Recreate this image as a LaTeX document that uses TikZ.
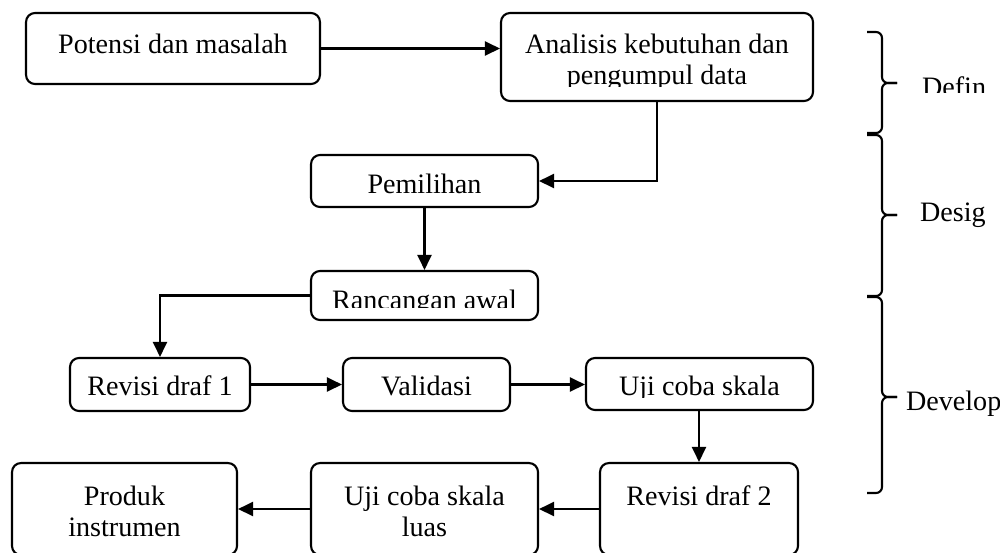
\documentclass[tikz,border=0pt]{standalone}
\usepackage{fontspec}
\setmainfont{Liberation Serif}
\usepackage{tikz}
\usetikzlibrary{arrows.meta, positioning, calc}

\begin{document}
\begin{tikzpicture}[x=0.02cm, y=-0.02cm, line width=1.2pt,
            stage/.style={draw, rounded corners=0.18cm, fill=white, inner sep=0pt},
            lbl/.style={font=\fontsize{16}{17.6}\selectfont, anchor=base, align=center, inner sep=0pt},
            flow/.style={draw, -{Triangle[length=0.3cm, width=0.28cm]}},
            phase/.style={draw, rounded corners=0.12cm}
        ]
        \clip (0,0) rectangle (1000,552);

        % The Boxes
        \node[stage, minimum width=5.88cm, minimum height=1.42cm] (potensi) at (173,48.5) {};
        \node[stage, minimum width=6.24cm, minimum height=1.76cm] (analisis) at (657,57) {};
        \node[stage, minimum width=4.54cm, minimum height=1.04cm] (pemilihan) at (424.5,181) {};
        \node[stage, minimum width=4.54cm, minimum height=0.98cm] (rancangan) at (424.5,295.5) {};
        \node[stage, minimum width=3.6cm, minimum height=1.06cm] (revisi1) at (160,384.5) {};
        \node[stage, minimum width=3.34cm, minimum height=1.06cm] (validasi) at (426.5,384.5) {};
        \node[stage, minimum width=4.54cm, minimum height=1.04cm] (ujicoba) at (699.5,384) {};
        \node[stage, minimum width=3.96cm, minimum height=1.84cm] (revisi2) at (699,509) {};
        \node[stage, minimum width=4.54cm, minimum height=1.84cm] (ujiluas) at (424.5,509) {};
        \node[stage, minimum width=4.5cm, minimum height=1.84cm] (produk) at (124.5,509) {};

        % Texts
        \node[lbl] (potensi-t) at (173,53) {Potensi dan masalah};
        \begin{scope}
            \clip (501,13) rectangle (813,86);
            \node[lbl] (analisis-t) at (657,84) {Analisis kebutuhan dan\\pengumpul data};
        \end{scope}
        \node[lbl] (pemilihan-t) at (424.5,193) {Pemilihan};
        \begin{scope}
            \clip (311,271) rectangle (538,307);
            \node[lbl] (rancangan-t) at (424.5,309) {Rancangan awal};
        \end{scope}
        \node[lbl] (revisi1-t) at (160,395) {Revisi draf 1};
        \node[lbl] (validasi-t) at (426.5,395) {Validasi};
        \begin{scope}
            \clip (586,358) rectangle (813,397);
            \node[lbl] (ujicoba-t) at (699.5,395) {Uji coba skala};
        \end{scope}
        \node[lbl] (revisi2-t) at (699,505) {Revisi draf 2};
        \node[lbl] (ujiluas-t) at (424.5,536) {Uji coba skala\\luas};
        \node[lbl] (produk-t) at (124.5,536) {Produk\\instrumen};

        % Arrows
        \draw[flow] (potensi.east) -- (potensi.east -| analisis.west);
        \draw[flow] (analisis.south) |- (pemilihan.east);
        \draw[flow] (pemilihan.south) -- (rancangan.north);
        \draw[flow] (rancangan.west) -| (revisi1.north);
        \draw[flow] (revisi1.east) -- (validasi.west);
        \draw[flow] (validasi.east) -- (validasi.east -| ujicoba.west);
        \draw[flow] (ujicoba.south -| revisi2.north) -- (revisi2.north);
        \draw[flow] (revisi2.west) -- (ujiluas.east);
        \draw[flow] (ujiluas.west) -- (produk.east);

        % Phases
        \coordinate (define-tip) at (897,83);
        \coordinate (design-tip) at (897,215);
        \coordinate (develop-tip) at (897,397);
        \draw[phase] (867,32) -| (882,83) -- (define-tip);
        \draw[phase] (867,133) -| (882,83) -- (define-tip);
        \draw[phase] (867,135) -| (882,215) -- (design-tip);
        \draw[phase] (867,296) -| (882,215) -- (design-tip);
        \draw[phase] (867,297) -| (882,397) -- (develop-tip);
        \draw[phase] (867,493) -| (882,397) -- (develop-tip);
        \begin{scope}
            \clip (900,60) rectangle (1000,92);
            \node[lbl, anchor=base west] (define-t) at (921,96) {Defin};
        \end{scope}
        \node[lbl, anchor=base west] (design-t) at (919,221) {Desig};
        \node[lbl, anchor=base west] (develop-t) at (905,410) {Develop};

        \end{tikzpicture}
\end{document}
